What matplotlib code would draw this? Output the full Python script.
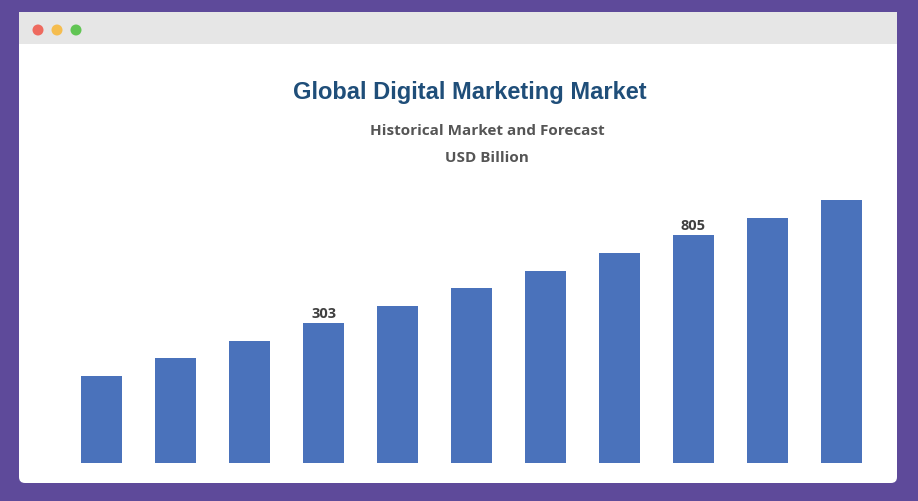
import matplotlib.pyplot as plt
from matplotlib.patches import FancyBboxPatch, Rectangle, Circle

# bar values (only two labelled in the source, rest)
values = [3, 103, 203, 303, 404, 504, 604, 705, 805, 905, 1005]
labelled = {3: "303", 8: "805"}

fig = plt.figure(figsize=(9.18, 5.02), dpi=100)
fig.patch.set_facecolor('#5e4a9a')

W, H = 918, 502
# window frame
bg = fig.add_axes([0, 0, 1, 1])
bg.set_xlim(0, W); bg.set_ylim(H, 0); bg.axis('off')
bg.add_patch(FancyBboxPatch((19, 13), 878, 471, boxstyle="round,pad=0,rounding_size=6",
                            fc='white', ec='none'))
bg.add_patch(Rectangle((19, 13), 878, 32, fc='#e6e6e6', ec='none'))
for x, c in [(38, '#ee6a5f'), (57, '#f5bd4f'), (76, '#61c554')]:
    bg.add_patch(Circle((x, 31), 5.5, fc=c, ec='none'))

bg.text(470, 92, "Global Digital Marketing Market", ha='center', va='center',
        fontsize=17, fontweight='bold', color='#1f4e79', family='Liberation Sans')
bg.text(487, 131, "Historical Market and Forecast", ha='center', va='center',
        fontsize=11, fontweight='bold', color='#555555', family='Open Sans')
bg.text(487, 158, "USD Billion", ha='center', va='center',
        fontsize=11, fontweight='bold', color='#555555', family='Open Sans')

ax = fig.add_axes([65 / W, (H - 464) / H, 813 / W, 274 / H])
ax.set_facecolor('none')
x = range(len(values))
ax.bar(x, values, width=0.555, color='#4a72bb', bottom=0)
ax.set_xlim(-0.5, 10.5)
ax.set_ylim(-493, 1069)
# bars start at the plot bottom
for b in ax.patches:
    b.set_y(-493)
    b.set_height(b.get_height() + 493)
for i, s in labelled.items():
    ax.text(i, values[i] + 20, s, ha='center', va='bottom', fontsize=10.5,
            fontweight='bold', color='#404040', family='Open Sans')
ax.axis('off')

fig.savefig('out.png', dpi=100, facecolor=fig.get_facecolor())
